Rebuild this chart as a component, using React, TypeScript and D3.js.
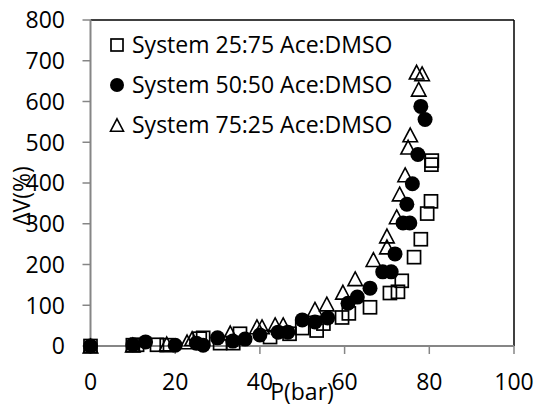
import React from "react";
import * as d3 from "d3";

const xTicks = [0, 20, 40, 60, 80, 100];
const yTicks = [0, 100, 200, 300, 400, 500, 600, 700, 800];

const seriesNames = [
  "System 25:75 Ace:DMSO",
  "System 50:50 Ace:DMSO",
  "System 75:25 Ace:DMSO",
];

const sys2575P = [0, 10, 11, 15.7, 18, 25.8, 26.6, 30.6, 33.7, 35.3, 42.4, 47, 50, 53.4, 55, 59.4, 61, 66, 70.7, 72.6, 73.5, 76.4, 78, 79.5, 80.4, 80.5, 80.6];
const sys2575V = [0, 2, 3, 3, 2, 18, 20, 7, 7, 30, 22, 30, 44, 38, 55, 70, 80, 95, 130, 133, 160, 218, 262, 325, 355, 445, 455];

const sys5050P = [0, 10, 13, 20, 25, 26.6, 30, 33.6, 36.5, 40, 44.3, 46.6, 50, 53, 56, 60.8, 63, 66, 69, 71, 71.9, 73.8, 75.4, 74.7, 76, 77.3, 78, 79];
const sys5050V = [0, 3, 10, 2, 7, 2, 20, 12, 17, 27, 34, 34, 64, 59, 69, 105, 120, 142, 182, 182, 226, 302, 302, 348, 398, 470, 588, 556];

const sys7525P = [0, 10, 18, 22.8, 24, 33, 39.3, 40.5, 43.6, 45.5, 53, 55.8, 59.6, 62.5, 66.8, 70, 70, 72.3, 73, 74.3, 75, 75.5, 77.5, 77, 78.3];
const sys7525V = [0, 2, 5, 10, 18, 32, 47, 47, 52, 52, 90, 103, 132, 165, 212, 243, 270, 317, 373, 420, 488, 518, 630, 672, 668];

const FONT = "'Open Sans', sans-serif";
const FS = 23;

function Square({ x, y, s }: { x: number; y: number; s: number }) {
  return <rect x={x - s / 2} y={y - s / 2} width={s} height={s} fill="none" stroke="#000" strokeWidth={1.7} />;
}
function Circle({ x, y, r }: { x: number; y: number; r: number }) {
  return <circle cx={x} cy={y} r={r} fill="#000" />;
}
function Tri({ x, y, s }: { x: number; y: number; s: number }) {
  const h = s * 0.95;
  const d = `M${x},${y - h / 2}L${x + s / 2},${y + h / 2}L${x - s / 2},${y + h / 2}Z`;
  return <path d={d} fill="none" stroke="#000" strokeWidth={1.6} strokeLinejoin="miter" />;
}

export default function App() {
  const W = 542, H = 408;
  const x = d3.scaleLinear().domain([0, 100]).range([90.5, 514]);
  const y = d3.scaleLinear().domain([0, 800]).range([346, 20]);
  const axisColor = "#868686";

  return (
    <svg width={W} height={H} style={{ position: "absolute", left: 0, top: 0, background: "#fff" }}>
      <rect x={0} y={0} width={W} height={H} fill="#fff" />
      <line x1={x(0)} x2={x(100)} y1={y(800)} y2={y(800)} stroke="#000" strokeWidth={1.5} />
      <line x1={x(100)} x2={x(100)} y1={y(800)} y2={y(0)} stroke="#000" strokeWidth={1.5} />
      <line x1={x(0)} x2={x(0)} y1={y(800)} y2={y(0)} stroke={axisColor} strokeWidth={2} />
      <line x1={x(0)} x2={x(100)} y1={y(0)} y2={y(0)} stroke={axisColor} strokeWidth={2} />
      {yTicks.map((t) => (
        <g key={"y" + t}>
          <line x1={x(0) - 8} x2={x(0)} y1={y(t)} y2={y(t)} stroke={axisColor} strokeWidth={1.5} />
          <text x={65} y={y(t)} dy="0.36em" textAnchor="end" fontFamily={FONT} fontSize={FS} fill="#000">{t}</text>
        </g>
      ))}
      {xTicks.map((t) => (
        <g key={"x" + t}>
          <line x1={x(t)} x2={x(t)} y1={y(0)} y2={y(0) + 8} stroke={axisColor} strokeWidth={1.5} />
          <text x={x(t)} y={390} textAnchor="middle" fontFamily={FONT} fontSize={FS} fill="#000">{t}</text>
        </g>
      ))}
      <text x={302} y={400} textAnchor="middle" fontFamily={FONT} fontSize={FS} fill="#000">P(bar)</text>
      <text transform="translate(30,196) rotate(-90)" textAnchor="middle" fontFamily={FONT} fontSize={FS} fill="#000">ΔV(%)</text>

      {sys2575P.map((p, i) => <Square key={"s" + i} x={x(p)} y={y(sys2575V[i])} s={13} />)}
      {sys5050P.map((p, i) => <Circle key={"c" + i} x={x(p)} y={y(sys5050V[i])} r={7.5} />)}
      {sys7525P.map((p, i) => <Tri key={"t" + i} x={x(p)} y={y(sys7525V[i])} s={14.5} />)}

      <Square x={117} y={45} s={12} />
      <text x={132} y={45} dy="0.36em" fontFamily={FONT} fontSize={FS} fill="#000">{seriesNames[0]}</text>
      <Circle x={117} y={85} r={7} />
      <text x={132} y={85} dy="0.36em" fontFamily={FONT} fontSize={FS} fill="#000">{seriesNames[1]}</text>
      <Tri x={117} y={125} s={13} />
      <text x={132} y={125} dy="0.36em" fontFamily={FONT} fontSize={FS} fill="#000">{seriesNames[2]}</text>
    </svg>
  );
}
